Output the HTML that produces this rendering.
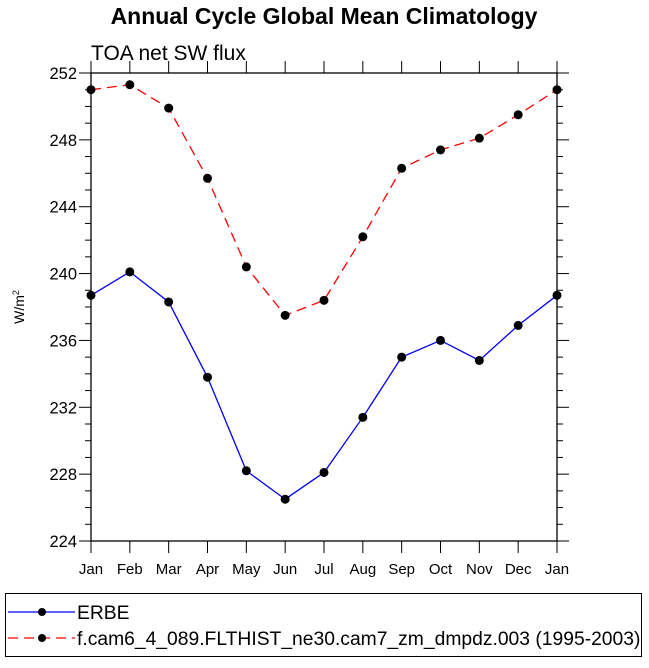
<!DOCTYPE html>
<html><head><meta charset="utf-8"><style>
body{margin:0;background:#fff;width:649px;height:663px;overflow:hidden}
svg text{font-family:"Liberation Sans",Helvetica,sans-serif}
</style></head><body>
<svg id="chart" width="649" height="663" xmlns="http://www.w3.org/2000/svg">
<text x="324" y="24" text-anchor="middle" font-size="23" font-weight="bold">Annual Cycle Global Mean Climatology</text>
<text x="91" y="60" font-size="21">TOA net SW flux</text>
<text transform="translate(24,307) rotate(-90)" text-anchor="middle" font-size="14">W/m<tspan font-size="9" dy="-5">2</tspan></text>
<g id="axes"></g>
<g id="series"></g>
<rect x="5.5" y="593.5" width="636" height="63" fill="none" stroke="#000" stroke-width="1"/>
<g>
<line x1="8" y1="612" x2="75" y2="612" stroke="#00f" stroke-width="1.3"/>
<circle cx="42" cy="612" r="4" fill="#000"/>
<text x="77" y="619" font-size="19.3">ERBE</text></g>
<g>
<line x1="8" y1="638" x2="75" y2="638" stroke="#f00" stroke-width="1.3" stroke-dasharray="10,6"/>
<circle cx="42" cy="638" r="4" fill="#000"/>
<text x="77" y="645" font-size="19.3">f.cam6_4_089.FLTHIST_ne30.cam7_zm_dmpdz.003 (1995-2003)</text></g>
</svg>
<script>
const months=["Jan","Feb","Mar","Apr","May","Jun","Jul","Aug","Sep","Oct","Nov","Dec","Jan"];
const erbe=[238.7,240.1,238.3,233.8,228.2,226.5,228.1,231.4,235.0,236.0,234.8,236.9,238.7];
const model=[251.0,251.3,249.9,245.7,240.4,237.5,238.4,242.2,246.3,247.4,248.1,249.5,251.0];
const yTicks=[224,228,232,236,240,244,248,252];
const X0=91,X1=557,Y0=541,Y1=73,YMIN=224,YMAX=252;
const xs=i=>X0+(X1-X0)*i/(months.length-1);
const ys=v=>Y0-(Y0-Y1)*(v-YMIN)/(YMAX-YMIN);
const NS="http://www.w3.org/2000/svg";
const ax=document.getElementById('axes'),se=document.getElementById('series');
function mk(t,a,p){const e=document.createElementNS(NS,t);for(const k in a)e.setAttribute(k,a[k]);p.appendChild(e);return e;}
const fr=mk('rect',{x:X0,y:Y1,width:X1-X0,height:Y0-Y1,fill:'none',stroke:'#000','stroke-width':1.3},ax);


for(let v=YMIN;v<=YMAX;v++){
 const y=ys(v),maj=(v%4===0),L=maj?12:6;
 const t1=mk('line',{x1:X0-L,y1:y,x2:X0,y2:y,stroke:'#000','stroke-width':1},ax);
 
 
 const t2=mk('line',{x1:X1,y1:y,x2:X1+L,y2:y,stroke:'#000','stroke-width':1},ax);
 
 
}
yTicks.forEach(v=>{
 const t=mk('text',{x:X0-14,y:ys(v)+6,'text-anchor':'end','font-size':16.5},ax);t.textContent=v;
 
 
});
months.forEach((m,i)=>{
 const x=xs(i);
 const a=mk('line',{x1:x,y1:Y0,x2:x,y2:Y0+12,stroke:'#000','stroke-width':1},ax);
 
 
 const b=mk('line',{x1:x,y1:Y1-12,x2:x,y2:Y1,stroke:'#000','stroke-width':1},ax);
 
 
 const t=mk('text',{x:x,y:Y0+33,'text-anchor':'middle','font-size':15},ax);t.textContent=m;
 
 
});
function draw(vals,col,dash,name){
 const pl=mk('polyline',{points:vals.map((v,i)=>xs(i)+','+ys(v)).join(' '),fill:'none',stroke:col,'stroke-width':1.3,'stroke-dasharray':dash},se);
 
 
 vals.forEach((v,i)=>{
  const c=mk('circle',{cx:xs(i),cy:ys(v),r:4.5,fill:'#000'},se);
  
  
 });
}
draw(erbe,'#00f','none','erbe');
draw(model,'#f00','10,6','model');
</script>
</body></html>
